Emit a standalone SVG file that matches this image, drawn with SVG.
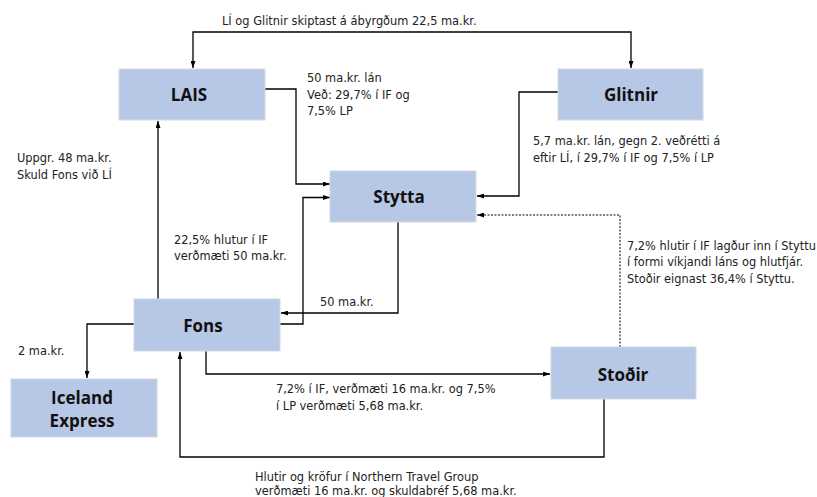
<svg xmlns="http://www.w3.org/2000/svg" width="817" height="497" viewBox="0 0 817 497">
  <style>
    .box { fill: #b7c7e6; stroke: #d3d8e0; stroke-width: 1; }
    .name { font-family: "Open Sans", "Noto Sans", sans-serif; font-weight: bold; font-size: 17px; fill: #111; text-anchor: middle; }
    .lbl { font-family: "DejaVu Sans", "Noto Sans", sans-serif; font-size: 11.4px; fill: #222; }
    .wire { fill: none; stroke: #000; stroke-width: 1.3; }
    .dot { stroke-dasharray: 2 1.5; stroke-width: 1; }
  </style>
  <defs>
    <marker id="arr" viewBox="0 0 7 5" refX="7" refY="2.5" markerWidth="7" markerHeight="5" markerUnits="userSpaceOnUse" orient="auto-start-reverse">
      <path d="M0,0 L7,2.5 L0,5 z" fill="#000"/>
    </marker>
  </defs>

  <rect width="817" height="497" fill="#fff"/>

  <!-- connectors -->
  <g id="connectors">
    <path class="wire" d="M193 68 V32 H631 V68" marker-start="url(#arr)" marker-end="url(#arr)"/>
    <path class="wire" d="M265 89 H296 V184 H330" marker-end="url(#arr)"/>
    <path class="wire" d="M558 92 H519 V196 H477" marker-end="url(#arr)"/>
    <path class="wire" d="M158 299 V121" marker-end="url(#arr)"/>
    <path class="wire" d="M280 324 H303 V197.5 H330" marker-end="url(#arr)"/>
    <path class="wire" d="M398 222 V313 H281" marker-end="url(#arr)"/>
    <path class="wire dot" d="M620 347 V215 H477" marker-end="url(#arr)"/>
    <path class="wire" d="M134 324 H87 V378" marker-end="url(#arr)"/>
    <path class="wire" d="M206 351 V374 H550" marker-end="url(#arr)"/>
    <path class="wire" d="M604 399 V457 H180 V352" marker-end="url(#arr)"/>
  </g>

  <!-- connector labels -->
  <g id="labels" class="lbl">
    <text x="222" y="25">LÍ og Glitnir skiptast á ábyrgðum 22,5 ma.kr.</text>
    <text x="307" y="82">50 ma.kr. lán</text>
    <text x="307" y="99">Veð: 29,7% í IF og</text>
    <text x="307" y="115">7,5% LP</text>
    <text x="17" y="162">Uppgr. 48 ma.kr.</text>
    <text x="17" y="179">Skuld Fons við LÍ</text>
    <text x="533" y="145">5,7 ma.kr. lán, gegn 2. veðrétti á</text>
    <text x="533" y="162">eftir LÍ, í 29,7% í IF og 7,5% í LP</text>
    <text x="174" y="244">22,5% hlutur í IF</text>
    <text x="174" y="260">verðmæti 50 ma.kr.</text>
    <text x="627" y="250">7,2% hlutir í IF lagður inn í Styttu</text>
    <text x="627" y="266">í formi víkjandi láns og hlutfjár.</text>
    <text x="627" y="283">Stoðir eignast 36,4% í Styttu.</text>
    <text x="320" y="306">50 ma.kr.</text>
    <text x="18" y="355">2 ma.kr.</text>
    <text x="276" y="393">7,2% í IF, verðmæti 16 ma.kr. og 7,5%</text>
    <text x="276" y="410">í LP verðmæti 5,68 ma.kr.</text>
    <text x="255" y="481">Hlutir og kröfur í Northern Travel Group</text>
    <text x="255" y="495">verðmæti 16 ma.kr. og skuldabréf 5,68 ma.kr.</text>
  </g>

  <!-- nodes -->
  <g id="lais">
    <rect class="box" x="119" y="69" width="146" height="51"/>
    <text class="name" x="189" y="101">LAIS</text>
  </g>
  <g id="glitnir">
    <rect class="box" x="558" y="69" width="145" height="51"/>
    <text class="name" x="631" y="101">Glitnir</text>
  </g>
  <g id="stytta">
    <rect class="box" x="330" y="171" width="146" height="51"/>
    <text class="name" x="399" y="203">Stytta</text>
  </g>
  <g id="fons">
    <rect class="box" x="134" y="299" width="146" height="52"/>
    <text class="name" x="203" y="332">Fons</text>
  </g>
  <g id="iceland-express">
    <rect class="box" x="11" y="379" width="146" height="58"/>
    <text class="name" x="82" y="404">Iceland</text>
    <text class="name" x="82" y="427">Express</text>
  </g>
  <g id="stodir">
    <rect class="box" x="551" y="347" width="145" height="52"/>
    <text class="name" x="623" y="381">Stoðir</text>
  </g>
</svg>
